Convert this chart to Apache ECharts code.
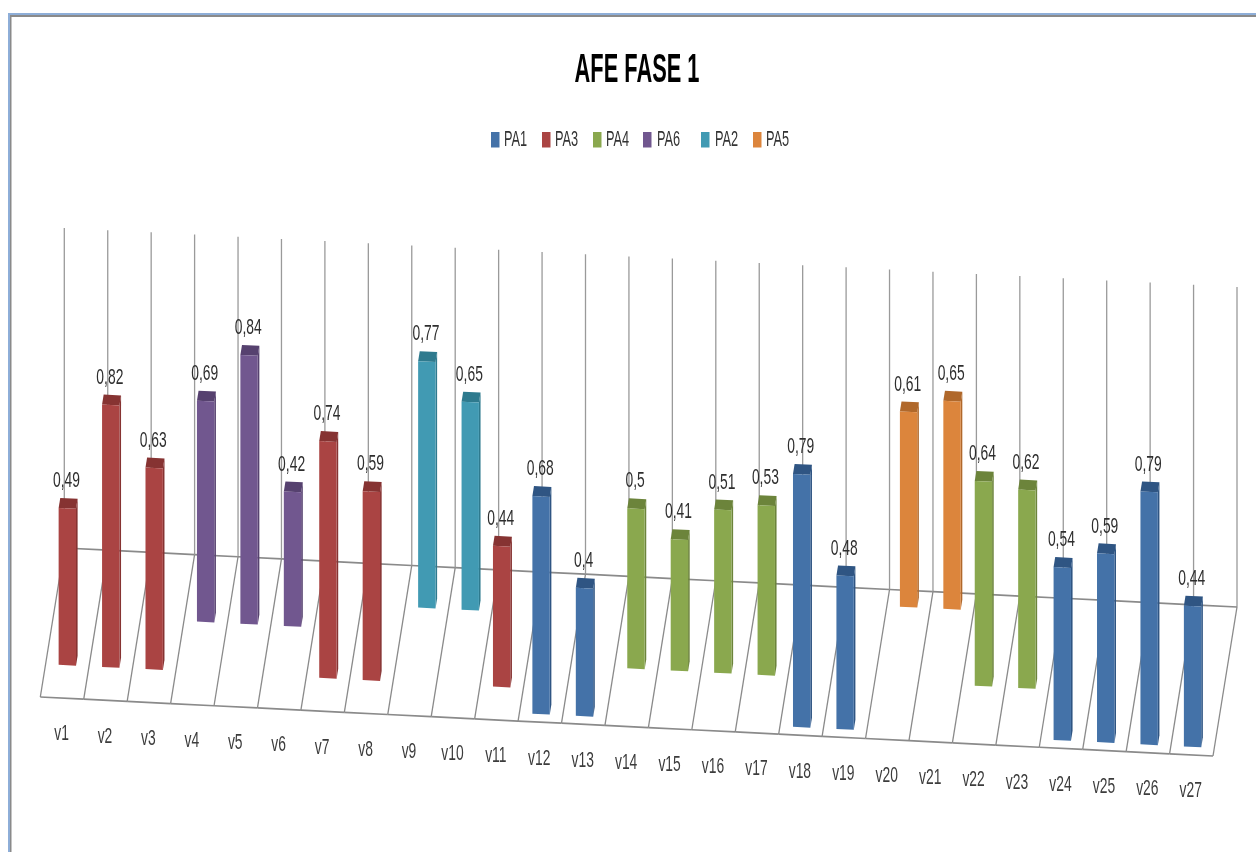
<!DOCTYPE html>
<html>
<head>
<meta charset="utf-8">
<title>AFE FASE 1</title>
<style>
  html, body { margin: 0; padding: 0; background: #fff; }
  #chart { width: 1256px; height: 852px; }
</style>
<script src="https://cdn.jsdelivr.net/npm/echarts@6/dist/echarts.min.js"></script>
</head>
<body>
<div id="chart"></div>
<script>
// Factor loadings per item, one array per factor (null = item not on that factor).
const categories = ['v1','v2','v3','v4','v5','v6','v7','v8','v9','v10','v11','v12','v13','v14',
                    'v15','v16','v17','v18','v19','v20','v21','v22','v23','v24','v25','v26','v27'];
const pa1 = [null,null,null,null,null,null,null,null,null,null,null,0.68,0.4,null,null,null,null,0.79,0.48,null,null,null,null,0.54,0.59,0.79,0.44];
const pa3 = [0.49,0.82,0.63,null,null,null,0.74,0.59,null,null,0.44,null,null,null,null,null,null,null,null,null,null,null,null,null,null,null,null];
const pa4 = [null,null,null,null,null,null,null,null,null,null,null,null,null,0.5,0.41,0.51,0.53,null,null,null,null,0.64,0.62,null,null,null,null];
const pa6 = [null,null,null,0.69,0.84,0.42,null,null,null,null,null,null,null,null,null,null,null,null,null,null,null,null,null,null,null,null,null];
const pa2 = [null,null,null,null,null,null,null,null,0.77,0.65,null,null,null,null,null,null,null,null,null,null,null,null,null,null,null,null,null];
const pa5 = [null,null,null,null,null,null,null,null,null,null,null,null,null,null,null,null,null,null,null,0.61,0.65,null,null,null,null,null,null];

// Series listed front row first; each row sits one step deeper on the floor.
const rows = [
  { name: 'PA1', values: pa1, color: '#4472a8', dark: '#2f5583', swatchX: 491, gap: 13 },
  { name: 'PA3', values: pa3, color: '#aa4443', dark: '#863332', swatchX: 542, gap: 13 },
  { name: 'PA4', values: pa4, color: '#8aa84e', dark: '#6c843b', swatchX: 593, gap: 13 },
  { name: 'PA6', values: pa6, color: '#71578f', dark: '#56416f', swatchX: 643, gap: 14 },
  { name: 'PA2', values: pa2, color: '#419ab3', dark: '#2e7a8e', swatchX: 701, gap: 14 },
  { name: 'PA5', values: pa5, color: '#dc853c', dark: '#b0682b', swatchX: 753, gap: 13 }
];

// Oblique projection of the floor and the columns.
const SLOPE = 0.0503;        // downward drift of the floor per pixel to the right
const FLOOR_DEPTH = 149;     // on-screen depth of the floor
const DEPTH_SHIFT = 24 / 149; // rightward drift per pixel of depth
const ROW_START = 8;
const ROW_STEP = 24.9;
const BAR_DEPTH = 10;
const BAR_RATIO = 0.4;
const NARROW = 0.645;        // horizontal squeeze applied to value and item text
const TEXT_SIZE = 21.5;
const TEXT_FONT = '"Liberation Sans", Arial, sans-serif';
const LINE = '#8a8a8a';

function projector(api) {
  const band = api.size([1, 0])[0];
  const originX = api.coord([0, 0])[0] - band / 2;
  return function (x, y, depth) {
    return [x + depth * DEPTH_SHIFT, y + SLOPE * (x - originX) - depth];
  };
}

function narrowText(x, y, text, size, fill) {
  return {
    type: 'text', x: x, y: y, scaleX: NARROW, z2: 20,
    style: { x: 0, y: 0, text: text, align: 'center', verticalAlign: 'middle',
             fontSize: size, fontFamily: TEXT_FONT, fill: fill }
  };
}

function lineEl(a, b, color, width) {
  return { type: 'line', z2: 1,
           shape: { x1: a[0], y1: a[1], x2: b[0], y2: b[1] },
           style: { stroke: color, lineWidth: width } };
}

// Floor grid, wall gridlines and the item labels under the front edge.
function renderFrame(params, api) {
  const i = api.value(0);
  const project = projector(api);
  const band = api.size([1, 0])[0];
  const c = api.coord([i, 0]);
  const top = api.coord([i, 1])[1];
  const children = [];
  const addBoundary = function (x) {
    children.push(lineEl(project(x, c[1], 0), project(x, c[1], FLOOR_DEPTH), LINE, 1.3));
    children.push(lineEl(project(x, c[1], FLOOR_DEPTH), project(x, top, FLOOR_DEPTH), '#9a9a9a', 1.3));
  };
  const left = c[0] - band / 2;
  const right = c[0] + band / 2;
  addBoundary(left);
  if (i === categories.length - 1) {
    addBoundary(right);
  }
  children.push(lineEl(project(left, c[1], 0), project(right, c[1], 0), LINE, 1.7));
  children.push(lineEl(project(left, c[1], FLOOR_DEPTH), project(right, c[1], FLOOR_DEPTH), LINE, 1.7));
  const labelAt = project(c[0] - 0.5, c[1], 0);
  children.push(narrowText(labelAt[0], labelAt[1] + 36.5, categories[i], TEXT_SIZE, '#3c3c3c'));
  return { type: 'group', children: children };
}

// One column: front face, right side, top cap and the value above it.
function columnRenderer(row, rowIndex) {
  return function (params, api) {
    const i = api.value(0);
    const v = api.value(1);
    const project = projector(api);
    const band = api.size([1, 0])[0];
    const base = api.coord([i, 0]);
    const topY = api.coord([i, v])[1];
    const half = band * BAR_RATIO / 2;
    const d0 = ROW_START + rowIndex * ROW_STEP;
    const d1 = d0 + BAR_DEPTH;
    const xl = base[0] - half;
    const xr = base[0] + half;
    const poly = function (points, fill) {
      return { type: 'polygon', z2: 5, shape: { points: points }, style: { fill: fill } };
    };
    const labelAt = project(base[0] - 2.5, topY, d1);
    const text = String(v).replace('.', ',');
    return {
      type: 'group',
      children: [
        poly([project(xr, base[1], d0), project(xr, base[1], d1), project(xr, topY, d1), project(xr, topY, d0)], row.dark),
        poly([project(xl, topY, d0), project(xr, topY, d0), project(xr, topY, d1), project(xl, topY, d1)], row.dark),
        poly([project(xl, base[1], d0), project(xr, base[1], d0), project(xr, topY, d0), project(xl, topY, d0)], row.color),
        narrowText(labelAt[0], labelAt[1] - 17, text, TEXT_SIZE, '#2e2e2e')
      ]
    };
  };
}

const columnSeries = rows.map(function (row, rowIndex) {
  return {
    type: 'custom',
    name: row.name,
    coordinateSystem: 'cartesian2d',
    renderItem: columnRenderer(row, rowIndex),
    encode: { x: 0, y: 1 },
    silent: true,
    z: 10 - rowIndex,
    data: row.values
      .map(function (v, i) { return [i, v]; })
      .filter(function (d) { return d[1] !== null; })
  };
});

// Legend row and chart heading, squeezed to the same narrow letterforms.
const legendGraphics = [];
rows.forEach(function (row) {
  legendGraphics.push({
    type: 'rect', silent: true,
    shape: { x: row.swatchX, y: 132, width: 8.5, height: 15.5 },
    style: { fill: row.color }
  });
  legendGraphics.push({
    type: 'text', silent: true,
    x: row.swatchX + row.gap, y: 139.5, scaleX: 0.58,
    style: { x: 0, y: 0, text: row.name, align: 'left', verticalAlign: 'middle',
             fontSize: 22, fontFamily: TEXT_FONT, fill: '#333' }
  });
});

const frameGraphics = [
  { type: 'rect', silent: true, shape: { x: 8, y: 13, width: 1248, height: 2 }, style: { fill: '#8eaed8' } },
  { type: 'rect', silent: true, shape: { x: 8, y: 13, width: 2, height: 839 }, style: { fill: '#8eaed8' } },
  { type: 'rect', silent: true, shape: { x: 10, y: 15, width: 1246, height: 2 }, style: { fill: '#8a8a8a' } },
  { type: 'rect', silent: true, shape: { x: 10, y: 15, width: 1.5, height: 837 }, style: { fill: '#8a8a8a' } }
];

const titleGraphic = {
  type: 'text', silent: true,
  x: 637, y: 70.5, scaleX: 0.545,
  style: { x: 0, y: 0, text: 'AFE FASE 1', align: 'center', verticalAlign: 'middle',
           fontSize: 40, fontWeight: 'bold', fontFamily: TEXT_FONT, fill: '#000' }
};

const chart = echarts.init(document.getElementById('chart'), null, { renderer: 'canvas' });
chart.setOption({
  animation: false,
  backgroundColor: '#ffffff',
  graphic: { elements: frameGraphics.concat([titleGraphic], legendGraphics) },
  grid: { left: 40.3, top: 377, width: 1172.7, height: 320, containLabel: false },
  xAxis: { type: 'category', data: categories, show: false },
  yAxis: { type: 'value', min: 0, max: 1, show: false },
  series: [{
    type: 'custom',
    name: 'frame',
    coordinateSystem: 'cartesian2d',
    renderItem: renderFrame,
    encode: { x: 0, y: 1 },
    silent: true,
    z: 1,
    data: categories.map(function (c, i) { return [i, 0]; })
  }].concat(columnSeries)
});
</script>
</body>
</html>
